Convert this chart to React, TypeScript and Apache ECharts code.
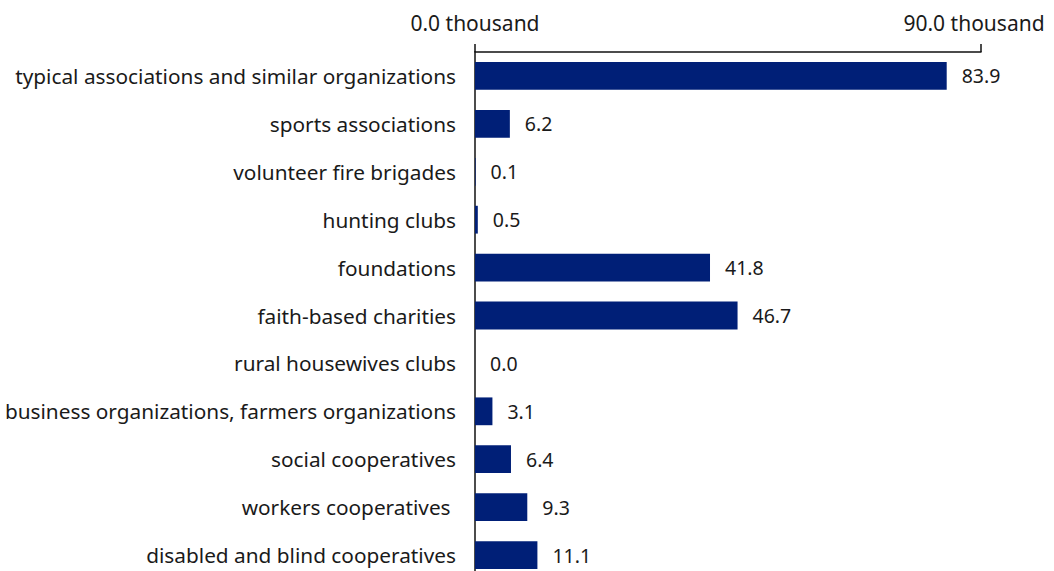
import React, { useEffect, useRef } from "react";
import * as echarts from "echarts";

const categories = [
  "typical associations and similar organizations",
  "sports associations",
  "volunteer fire brigades",
  "hunting clubs",
  "foundations",
  "faith-based charities",
  "rural housewives clubs",
  "business organizations, farmers organizations",
  "social cooperatives",
  "workers cooperatives ",
  "disabled and blind cooperatives",
];
const values = [83.9, 6.2, 0.1, 0.5, 41.8, 46.7, 0.0, 3.1, 6.4, 9.3, 11.1];
const axisMin = 0;
const axisMax = 90;

export default function App() {
  const ref = useRef<HTMLDivElement>(null);
  useEffect(() => {
    if (!ref.current) return;
    const chart = echarts.init(ref.current, null, { renderer: "svg" });
    const font = "'Noto Sans', sans-serif";
    const txt = { color: "#1a1a1a", fontFamily: font, fontSize: 21 };
    chart.setOption({
      animation: false,
      grid: { left: 475, right: 73, top: 52, bottom: 0, containLabel: false },
      xAxis: {
        type: "value",
        position: "top",
        min: axisMin,
        max: axisMax,
        interval: axisMax - axisMin,
        splitLine: { show: false },
        axisLine: { show: true, lineStyle: { color: "#111", width: 1.5 } },
        axisTick: { show: true, length: 8, lineStyle: { color: "#111", width: 1.5 } },
        axisLabel: {
          margin: 19,
          ...txt,
          formatter: (v: number) =>
            v === axisMax
              ? "{b|" + v.toFixed(1) + " thousand}"
              : "{a|" + v.toFixed(1) + " thousand}",
          rich: {
            a: { ...txt },
            b: { ...txt, padding: [0, 14, 0, 0] },
          },
        },
      },
      yAxis: {
        type: "category",
        data: categories,
        inverse: true,
        axisLine: { show: true, lineStyle: { color: "#111", width: 1.5 } },
        axisTick: { show: false },
        axisLabel: {
          margin: 19,
          color: "#1a1a1a",
          fontFamily: font,
          fontSize: 20.8,
        },
      },
      series: [
        {
          type: "bar",
          data: values,
          barWidth: "58%",
          itemStyle: { color: "#001f77" },
          label: {
            show: true,
            position: "right",
            distance: 15,
            color: "#1a1a1a",
            fontFamily: font,
            fontSize: 19.5,
            formatter: (p: any) => Number(p.value).toFixed(1),
          },
        },
      ],
    });
    return () => chart.dispose();
  }, []);
  return (
    <div
      ref={ref}
      style={{ position: "absolute", left: 0, top: 0, width: 1054, height: 579 }}
    />
  );
}
